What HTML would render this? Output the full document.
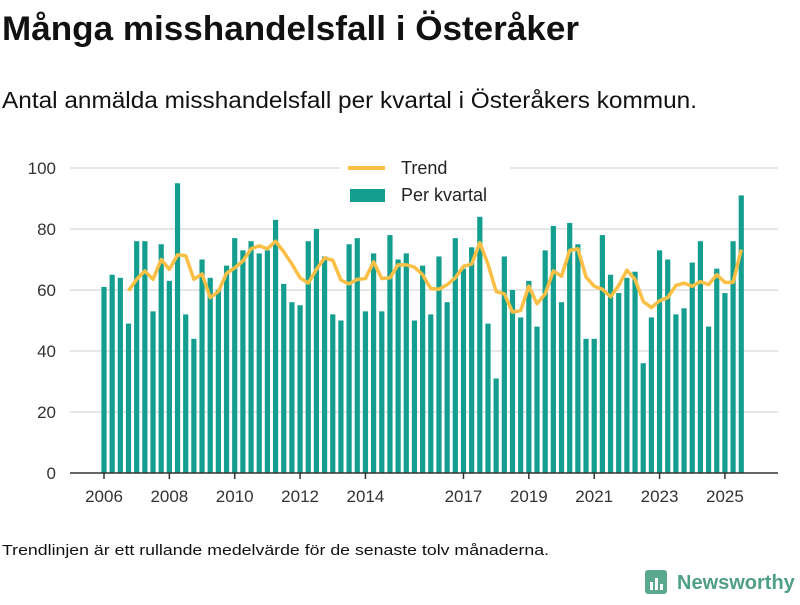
<!DOCTYPE html>
<html><head><meta charset="utf-8"><style>
body{margin:0;background:#fff;width:800px;height:600px;overflow:hidden;font-family:"Liberation Sans","DejaVu Sans",sans-serif;color:#111}
</style></head><body>
<svg width="800" height="600" xmlns="http://www.w3.org/2000/svg">
<text x="2" y="40" font-size="34" font-weight="bold" fill="#111" textLength="577" lengthAdjust="spacingAndGlyphs">Många misshandelsfall i Österåker</text>
<text x="2" y="108" font-size="23" fill="#111" textLength="695" lengthAdjust="spacingAndGlyphs">Antal anmälda misshandelsfall per kvartal i Österåkers kommun.</text>
<g id="grid"></g><g id="bars"></g><g id="trend"></g><g id="xaxis"></g>
<g>
<rect x="340" y="155" width="170" height="55" fill="#fff"/>
<line x1="348" y1="168" x2="385" y2="168" stroke="#fbbf45" stroke-width="4"/>
<text x="401" y="174" font-size="18" fill="#222">Trend</text>
<rect x="350" y="189" width="35" height="13" fill="#139e8f"/>
<text x="401" y="201" font-size="18" fill="#222">Per kvartal</text>
</g>
<text x="2" y="555" font-size="15" fill="#111" textLength="547" lengthAdjust="spacingAndGlyphs">Trendlinjen är ett rullande medelvärde för de senaste tolv månaderna.</text>
<g>
<rect x="645" y="570" width="22" height="24" rx="3" fill="#5aa88f"/>
<rect x="650" y="582" width="3" height="8" fill="#fff"/><rect x="655" y="578" width="3" height="12" fill="#fff"/><rect x="660" y="584" width="3" height="6" fill="#fff"/>
<text x="677" y="589" font-size="20" font-weight="bold" fill="#4f9e86">Newsworthy</text>
</g>
</svg>
<script>
const values=[61,65,64,49,76,76,53,75,63,95,52,44,70,64,60,68,77,73,76,72,73,83,62,56,55,76,80,71,52,50,75,77,53,72,53,78,70,72,50,68,52,71,56,77,67,74,84,49,31,71,60,51,63,48,73,81,56,82,75,44,44,78,65,59,64,66,36,51,73,70,52,54,69,76,48,67,59,76,91];
const yTicks=[0,20,40,60,80,100];
const xTickLabels=["2006","2008","2010","2012","2014","2017","2019","2021","2023","2025"];
const xTickIndex=[0,8,16,24,32,44,52,60,68,76];
const NS="http://www.w3.org/2000/svg";
const x0=104,step=8.17,y0=473,ppu=3.05;
const xs=i=>x0+i*step, ys=v=>y0-v*ppu;
function mk(tag,attrs,parent){const e=document.createElementNS(NS,tag);for(const k in attrs)e.setAttribute(k,attrs[k]);parent.appendChild(e);return e;}
const grid=document.getElementById('grid');
yTicks.forEach(t=>{
 if(t>0){const l=mk('line',{x1:70,x2:778,y1:ys(t),y2:ys(t),stroke:'#ddd','stroke-width':1.5},grid);
 
 }
 const tx=mk('text',{x:56,y:ys(t)+6,'font-size':17,'text-anchor':'end',fill:'#333'},grid);tx.textContent=t;
 
 
});
const bars=document.getElementById('bars');
values.forEach((v,i)=>{const r=mk('rect',{x:xs(i)-2.6,y:ys(v),width:5.2,height:v*ppu,fill:'#139e8f'},bars);
 
 });
let pts=[];
for(let i=3;i<values.length;i++){const m=(values[i]+values[i-1]+values[i-2]+values[i-3])/4;pts.push(xs(i)+','+ys(m));}
const pl=mk('polyline',{points:pts.join(' '),fill:'none',stroke:'#fbbf45','stroke-width':3.5,'stroke-linejoin':'round'},document.getElementById('trend'));


const xa=document.getElementById('xaxis');
const ax=mk('line',{x1:70,x2:778,y1:y0,y2:y0,stroke:'#333','stroke-width':1.5},xa);


xTickIndex.forEach((idx,k)=>{mk('line',{x1:xs(idx),x2:xs(idx),y1:y0,y2:y0+6,stroke:'#333','stroke-width':1.5},xa);
 const t=mk('text',{x:xs(idx),y:y0+29,'font-size':17,'text-anchor':'middle',fill:'#333'},xa);t.textContent=xTickLabels[k];
 
 });
</script>
</body></html>
